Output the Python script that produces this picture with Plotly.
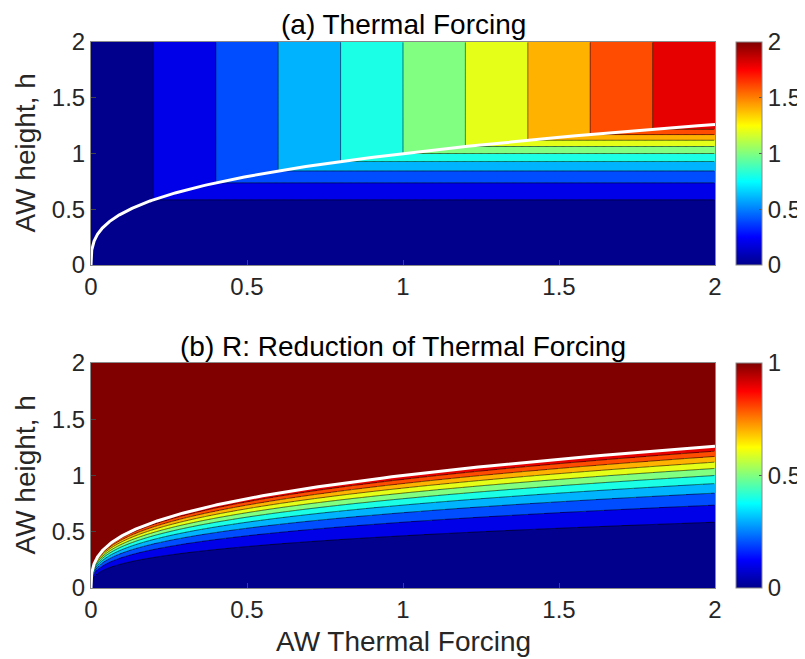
import numpy as np
import plotly.graph_objects as go

# ---------------- data / labels ----------------
TF_RANGE = [0, 2]            # AW thermal forcing axis range
H_RANGE = [0, 2]             # AW height axis range
AXIS_TICKS = [0, 0.5, 1, 1.5, 2]
AXIS_TICKTEXT = ["0", "0.5", "1", "1.5", "2"]
CB_A_TICKS = [0, 0.5, 1, 1.5, 2]
CB_A_TEXT = ["0", "0.5", "1", "1.5", "2"]
CB_B_TICKS = [0, 0.5, 1]
CB_B_TEXT = ["0", "0.5", "1"]
LEVELS_A = [0.2, 1.8, 0.2]   # start, end, step of contour levels (panel a)
LEVELS_B = [0.1, 0.9, 0.1]   # start, end, step of contour levels (panel b)
ZMAX_A = 2.0
ZMAX_B = 1.0
CRIT_POWER = 3               # critical height: h_c**3 = TF
TITLES = ["(a) Thermal Forcing", "(b) R: Reduction of Thermal Forcing"]
XLABEL = "AW Thermal Forcing"
YLABEL = "AW height, h"

# MATLAB-style jet colormap
JET = [[0.0, "rgb(0,0,140)"], [0.125, "rgb(0,0,255)"], [0.375, "rgb(0,255,255)"],
       [0.625, "rgb(255,255,0)"], [0.875, "rgb(255,0,0)"], [1.0, "rgb(128,0,0)"]]

# ---------------- fields ----------------
nx, ny = 700, 500
dx = (TF_RANGE[1] - TF_RANGE[0]) / nx
dy = (H_RANGE[1] - H_RANGE[0]) / ny
tf = TF_RANGE[0] + (np.arange(nx) + 0.5) * dx
hh = H_RANGE[0] + (np.arange(ny) + 0.5) * dy
TF, HH = np.meshgrid(tf, hh)
HP = HH ** CRIT_POWER
FA = np.minimum(TF, HP)                 # thermal forcing felt
FB = np.minimum(1.0, HP / TF)           # reduction ratio

def quantize(z, step):
    return (np.floor(z / step + 1e-9) * step).astype(np.float32)

QA = quantize(FA, LEVELS_A[2])
QB = quantize(FB, LEVELS_B[2])

tf_line = np.concatenate([[0.0], np.geomspace(1e-7, TF_RANGE[1], 600)])
h_line = tf_line ** (1.0 / CRIT_POWER)

# ---------------- layout geometry ----------------
# the page body has an 8px margin; the figure is sized/positioned to compensate
OFF = 8
W, H = 805 - OFF, 659 - OFF
def px_x(p): return (p - OFF) / W
def px_y(p): return 1 - (p - OFF) / H

XDOM = [px_x(91), px_x(715)]
YDOM_A = [px_y(265), px_y(42)]
YDOM_B = [px_y(588), px_y(363)]

FONT = "Liberation Sans, Arial, Helvetica, sans-serif"
TXT = "#262626"

def cbar(ticks, text, top, bottom):
    return dict(
        x=px_x(736), xanchor="left", thickness=26, thicknessmode="pixels",
        len=(bottom - top) / H, lenmode="fraction",
        y=px_y((top + bottom) / 2), yanchor="middle",
        outlinewidth=1, outlinecolor="#8a8a8a",
        ticks="inside", ticklen=3, tickcolor="#555555",
        tickvals=ticks, ticktext=text,
        tickfont=dict(size=24, color=TXT, family=FONT),
        xpad=0, ypad=0,
    )

fig = go.Figure()

# panel a
fig.add_trace(go.Heatmap(z=QA, x0=tf[0], dx=dx, y0=hh[0], dy=dy, colorscale=JET,
                         zmin=0, zmax=ZMAX_A, zsmooth=False, hoverinfo="skip",
                         colorbar=cbar(CB_A_TICKS, CB_A_TEXT, 42, 265),
                         xaxis="x", yaxis="y"))
fig.add_trace(go.Contour(z=FA, x=tf, y=hh, autocontour=False,
                         contours=dict(start=LEVELS_A[0], end=LEVELS_A[1], size=LEVELS_A[2],
                                       coloring="none"),
                         line=dict(color="black", width=0.6), showscale=False,
                         hoverinfo="skip", xaxis="x", yaxis="y"))
fig.add_trace(go.Scatter(x=tf_line, y=h_line, mode="lines", line=dict(color="white", width=3),
                         hoverinfo="skip", showlegend=False, xaxis="x", yaxis="y"))

# panel b
fig.add_trace(go.Heatmap(z=QB, x0=tf[0], dx=dx, y0=hh[0], dy=dy, colorscale=JET,
                         zmin=0, zmax=ZMAX_B, zsmooth=False, hoverinfo="skip",
                         colorbar=cbar(CB_B_TICKS, CB_B_TEXT, 363, 588),
                         xaxis="x2", yaxis="y2"))
fig.add_trace(go.Contour(z=FB, x=tf, y=hh, autocontour=False,
                         contours=dict(start=LEVELS_B[0], end=LEVELS_B[1], size=LEVELS_B[2],
                                       coloring="none"),
                         line=dict(color="black", width=0.6), showscale=False,
                         hoverinfo="skip", xaxis="x2", yaxis="y2"))
fig.add_trace(go.Scatter(x=tf_line, y=h_line, mode="lines", line=dict(color="white", width=3),
                         hoverinfo="skip", showlegend=False, xaxis="x2", yaxis="y2"))

axis_common = dict(
    showline=True, mirror=True, linecolor="#8a8a8a", linewidth=1,
    ticks="inside", ticklen=5, tickcolor="#444444",
    showgrid=False, zeroline=False, automargin=False,
    tickvals=AXIS_TICKS, ticktext=AXIS_TICKTEXT,
    tickfont=dict(size=24, color=TXT, family=FONT),
)

fig.update_layout(
    width=W, height=H,
    margin=dict(l=0, r=0, t=0, b=0, autoexpand=False),
    paper_bgcolor="white", plot_bgcolor="white",
    showlegend=False,
    font=dict(family=FONT, color=TXT),
    xaxis=dict(domain=XDOM, anchor="y", range=TF_RANGE, **axis_common),
    yaxis=dict(domain=YDOM_A, anchor="x", range=H_RANGE, **axis_common),
    xaxis2=dict(domain=XDOM, anchor="y2", range=TF_RANGE, **axis_common),
    yaxis2=dict(domain=YDOM_B, anchor="x2", range=H_RANGE, **axis_common),
)

cx = (XDOM[0] + XDOM[1]) / 2
ann = [
    dict(text=TITLES[0], x=cx, y=px_y(24), xref="paper", yref="paper",
         xanchor="center", yanchor="middle", showarrow=False, font=dict(size=28, color="black")),
    dict(text=TITLES[1], x=cx, y=px_y(346), xref="paper", yref="paper",
         xanchor="center", yanchor="middle", showarrow=False, font=dict(size=28, color="black")),
    dict(text=XLABEL, x=cx, y=px_y(641), xref="paper", yref="paper",
         xanchor="center", yanchor="middle", showarrow=False, font=dict(size=28, color=TXT)),
    dict(text=YLABEL, x=px_x(25), y=px_y(153.5), xref="paper", yref="paper", textangle=-90,
         xanchor="center", yanchor="middle", showarrow=False, font=dict(size=28, color=TXT)),
    dict(text=YLABEL, x=px_x(25), y=px_y(475.5), xref="paper", yref="paper", textangle=-90,
         xanchor="center", yanchor="middle", showarrow=False, font=dict(size=28, color=TXT)),
]
fig.update_layout(annotations=ann)

fig.write_html("out.html")
